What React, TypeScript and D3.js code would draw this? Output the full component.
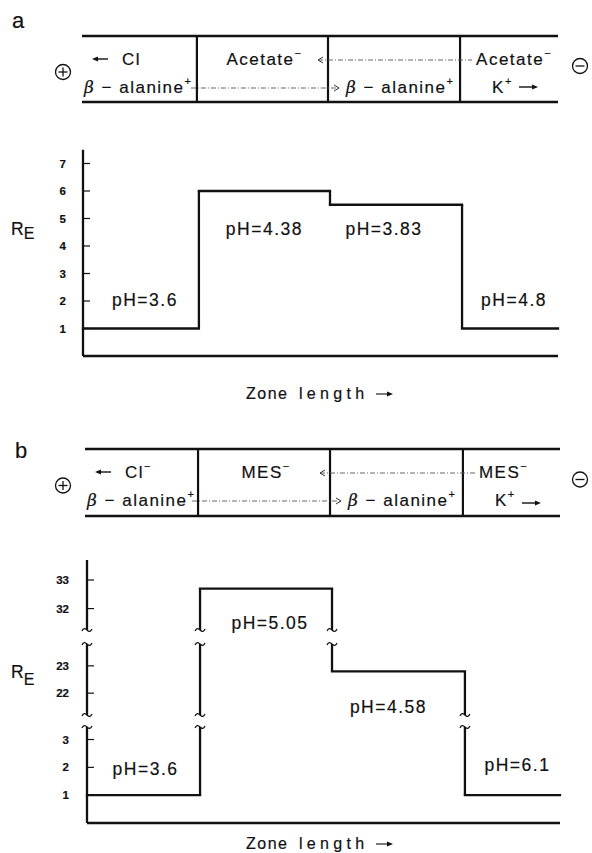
import React, { useEffect, useRef } from 'react';
import * as d3 from 'd3';

// zone boundaries along the zone length (0-100)
const zoneEdgesA = [0, 24.4, 52, 79.8, 100];
const reValuesA = [1, 6, 5.5, 1];
const phLabelsA = ['pH=3.6', 'pH=4.38', 'pH=3.83', 'pH=4.8'];
const yTicksA = [1, 2, 3, 4, 5, 6, 7];
const ionsTopA = ['Acetate^−', '', 'Acetate^−'];
const ionsBottomA = ['β − alanine^+', '', 'β − alanine^+', 'K^+'];
const leadIonA = 'Cl';

const zoneEdgesB = [0, 23.9, 51.8, 79.9, 100];
const reValuesB = [1, 32.7, 22.8, 1];
const phLabelsB = ['pH=3.6', 'pH=5.05', 'pH=4.58', 'pH=6.1'];
const yTicksB = [1, 2, 3, 22, 23, 32, 33];
// parts of the R_E axis that are shown in b, the rest is cut out
const segmentsB = [[0, 3.45], [21.2, 23.8], [31.25, 33.7]];
const ionsTopB = ['MES^−', '', 'MES^−'];
const ionsBottomB = ['β − alanine^+', '', 'β − alanine^+', 'K^+'];
const leadIonB = 'Cl^−';

const FONT = '"Liberation Sans", Arial, sans-serif';
const INK = '#111';

const richText = (g, str, x, y, opts: any = {}) => {
  const t = g.append('text')
    .attr('x', x).attr('y', y)
    .attr('text-anchor', opts.anchor || 'start')
    .attr('font-family', FONT)
    .attr('font-size', opts.size || 17)
    .attr('letter-spacing', opts.spacing ?? 1.5)
    .attr('fill', INK);
  let raised = false;
  str.split(/(\^.|β)/).forEach(p => {
    if (!p) return;
    if (p[0] === '^') {
      t.append('tspan').attr('dy', -8).attr('font-size', 11).text(p[1]);
      raised = true;
      return;
    }
    const s = t.append('tspan').text(p);
    if (p === 'β') s.attr('font-style', 'italic').attr('font-family', '"DejaVu Serif", serif');
    if (raised) { s.attr('dy', 8); raised = false; }
  });
  return t;
};

// solid arrow from x0 to x1
const arrow = (g, x0, x1, y, w = 1.4) => {
  const dir = x1 > x0 ? 1 : -1;
  g.append('line').attr('x1', x0).attr('x2', x1 - dir * 3).attr('y1', y).attr('y2', y)
    .attr('stroke', INK).attr('stroke-width', w);
  g.append('path').attr('d', `M${x1},${y} L${x1 - dir * 6},${y - 2.6} L${x1 - dir * 6},${y + 2.6} Z`)
    .attr('fill', INK);
};

// little wavy end used where the scale is broken
const tilde = (g, x, y) => {
  g.append('path')
    .attr('d', `M${x - 5},${y + 1} c1.5,-3 3,-3 5,-1 s3.5,2 5,-1`)
    .attr('fill', 'none').attr('stroke', INK).attr('stroke-width', 1.3);
};

const dashed = (g, x1, x2, y, head) => {
  g.append('line').attr('x1', x1).attr('x2', x2).attr('y1', y).attr('y2', y)
    .attr('stroke', '#555').attr('stroke-width', 0.9).attr('stroke-dasharray', '5 2 1 2');
  const hx = head === 'left' ? x1 : x2;
  const d = head === 'left' ? 5 : -5;
  g.append('path').attr('d', `M${hx + d},${y - 3} L${hx},${y} L${hx + d},${y + 3}`)
    .attr('fill', 'none').attr('stroke', '#333').attr('stroke-width', 1);
};

const electrode = (g, cx, cy, sign) => {
  g.append('circle').attr('cx', cx).attr('cy', cy).attr('r', 7.5)
    .attr('fill', 'none').attr('stroke', INK).attr('stroke-width', 1.3);
  g.append('line').attr('x1', cx - 4.5).attr('x2', cx + 4.5).attr('y1', cy).attr('y2', cy)
    .attr('stroke', INK).attr('stroke-width', 1.3);
  if (sign === '+') {
    g.append('line').attr('x1', cx).attr('x2', cx).attr('y1', cy - 4.5).attr('y2', cy + 4.5)
      .attr('stroke', INK).attr('stroke-width', 1.3);
  }
};

const App = () => {
  const ref = useRef(null);

  useEffect(() => {
    const svg = d3.select(ref.current);
    svg.selectAll('*').remove();

    const drawPanel = (cfg) => {
      const g = svg.append('g');
      const x = d3.scaleLinear().domain([0, 100]).range(cfg.xRange);
      const y = d3.scaleLinear().domain(cfg.yDomain).range(cfg.yRange);
      const [bx0, bx1] = cfg.boxX;
      const [by0, by1] = cfg.boxY;

      // panel letter
      g.append('text').attr('x', cfg.letterPos[0]).attr('y', cfg.letterPos[1])
        .attr('font-family', FONT).attr('font-size', 22).attr('fill', INK).text(cfg.letter);

      // ion box
      [by0, by1].forEach(yy => {
        g.append('line').attr('x1', bx0).attr('x2', bx1).attr('y1', yy).attr('y2', yy)
          .attr('stroke', INK).attr('stroke-width', 2.4);
      });
      cfg.edges.slice(1, -1).forEach(e => {
        g.append('line').attr('x1', x(e) - 2).attr('x2', x(e) - 2).attr('y1', by0).attr('y2', by1)
          .attr('stroke', INK).attr('stroke-width', 2.2);
      });
      electrode(g, 63, (by0 + by1) / 2 + 3, '+');
      electrode(g, 580, (by0 + by1) / 2 - 3, '-');

      const r1 = by0 + 29;
      const r2 = by0 + 57;
      arrow(g, bx0 + 26, bx0 + 10, r1 - 6);
      richText(g, cfg.lead, bx0 + 40, r1);
      richText(g, cfg.top[0], (x(cfg.edges[1]) + x(cfg.edges[2])) / 2, r1, { anchor: 'middle' });
      richText(g, cfg.top[2], x(cfg.edges[3]) + 14, r1);
      richText(g, cfg.bottom[0], bx0 + 2, r2);
      richText(g, cfg.bottom[2], x(cfg.edges[2]) + 16, r2);
      richText(g, cfg.bottom[3], x(cfg.edges[3]) + 30, r2);
      arrow(g, x(cfg.edges[3]) + 57, x(cfg.edges[3]) + 76, r2 - cfg.kArrowUp);
      dashed(g, x(cfg.edges[2]) - 12, x(cfg.edges[3]) + 10, r1 - 5, 'left');
      dashed(g, x(cfg.edges[1]) - 8, x(cfg.edges[2]) + 9, r2 - 5, 'right');

      // clip a vertical run [v0, v1] to the shown axis parts, marking the cuts
      const vertical = (xx, v0, v1, w) => {
        const lo = Math.min(v0, v1);
        const hi = Math.max(v0, v1);
        cfg.segments.forEach(([s0, s1]) => {
          const a = Math.max(lo, s0);
          const b = Math.min(hi, s1);
          if (a >= b) return;
          g.append('line').attr('x1', xx).attr('x2', xx).attr('y1', y(a)).attr('y2', y(b))
            .attr('stroke', INK).attr('stroke-width', w);
          if (a > lo) tilde(g, xx, y(a));
          if (b < hi) tilde(g, xx, y(b));
        });
      };

      // axes
      vertical(x(0), 0, cfg.yDomain[cfg.yDomain.length - 1], 2.3);
      g.append('line').attr('x1', x(0)).attr('x2', x(100)).attr('y1', y(0)).attr('y2', y(0))
        .attr('stroke', INK).attr('stroke-width', 2.3);
      cfg.ticks.forEach(t => {
        g.append('line').attr('x1', x(0)).attr('x2', x(0) + 7).attr('y1', y(t)).attr('y2', y(t))
          .attr('stroke', INK).attr('stroke-width', 1.2);
        g.append('text').attr('x', cfg.tickX).attr('y', y(t) + 4)
          .attr('text-anchor', 'end').attr('font-family', FONT).attr('font-size', 11.5)
          .attr('font-weight', 'bold').attr('fill', INK).text(t);
      });

      // R_E label
      const re = g.append('text').attr('x', 11).attr('y', cfg.reY)
        .attr('font-family', FONT).attr('font-size', 17.5).attr('fill', INK);
      re.append('tspan').text('R');
      re.append('tspan').attr('dy', cfg.reDy).attr('font-size', 16).text('E');

      // R_E step profile
      cfg.values.forEach((v, i) => {
        g.append('line').attr('x1', x(cfg.edges[i])).attr('x2', x(cfg.edges[i + 1]))
          .attr('y1', y(v)).attr('y2', y(v))
          .attr('stroke', INK).attr('stroke-width', 2.3).attr('stroke-linecap', 'square');
        if (i > 0) vertical(x(cfg.edges[i]), cfg.values[i - 1], v, 2.3);
      });

      cfg.ph.forEach((lab, i) => {
        const cx = (x(cfg.edges[i]) + x(cfg.edges[i + 1])) / 2 + cfg.phDx[i];
        g.append('text').attr('x', cx).attr('y', cfg.phY[i])
          .attr('text-anchor', 'middle').attr('font-family', FONT).attr('font-size', 17.5)
          .attr('letter-spacing', 1.5).attr('fill', INK).text(lab);
      });

      // x axis caption
      g.append('text').attr('x', 246).attr('y', cfg.zoneY)
        .attr('font-family', FONT).attr('font-size', 16).attr('letter-spacing', 1.5)
        .attr('fill', INK).text('Zone');
      g.append('text').attr('x', 299).attr('y', cfg.zoneY)
        .attr('font-family', FONT).attr('font-size', 16).attr('letter-spacing', 4.3)
        .attr('fill', INK).text('length');
      arrow(g, 376, 393, cfg.zoneY - 5, 1.1);
    };

    drawPanel({
      letter: 'a', letterPos: [12, 28],
      xRange: [83, 558], yDomain: [0, 7.5], yRange: [356, 149.75],
      segments: [[0, 7.5]],
      boxX: [82, 558], boxY: [36, 102],
      edges: zoneEdgesA, values: reValuesA, ph: phLabelsA, ticks: yTicksA,
      top: ionsTopA, bottom: ionsBottomA, lead: leadIonA,
      tickX: 66, reY: 235, reDy: 4, kArrowUp: 6,
      phDx: [4, 0, -12, 4], phY: [306, 235, 235, 306], zoneY: 399,
    });

    drawPanel({
      letter: 'b', letterPos: [15, 458],
      xRange: [87, 560], yDomain: [0, 3.45, 21.2, 23.8, 31.25, 33.7],
      yRange: [823, 727, 715, 644, 630, 560],
      segments: segmentsB,
      boxX: [85, 560], boxY: [449, 516],
      edges: zoneEdgesB, values: reValuesB, ph: phLabelsB, ticks: yTicksB,
      top: ionsTopB, bottom: ionsBottomB, lead: leadIonB,
      tickX: 69, reY: 678, reDy: 7, kArrowUp: 3,
      phDx: [2, 4, -10, 5], phY: [775, 629, 713, 771], zoneY: 849,
    });
  }, []);

  return (
    <div style={{ position: 'absolute', left: 0, top: 0, background: '#fff' }}>
      <style>{`svg text { stroke: #111; stroke-width: 0.2px; }`}</style>
      <svg ref={ref} width={592} height={853} style={{ display: 'block' }}></svg>
    </div>
  );
};

export default App;
